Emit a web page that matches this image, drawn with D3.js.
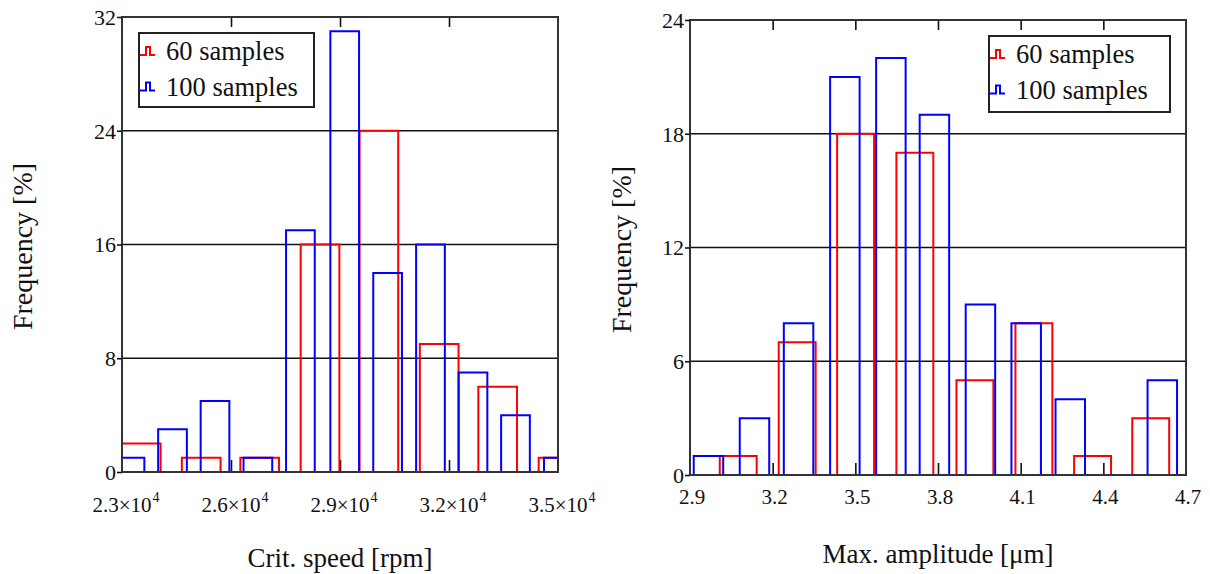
<!DOCTYPE html>
<html>
<head>
<meta charset="utf-8">
<script src="https://d3js.org/d3.v7.min.js"></script>
<style>
body { margin: 0; background: #fff; }
svg text { font-family: "Liberation Serif", "DejaVu Serif", "Times New Roman", serif; fill: #111; }
</style>
</head>
<body>
<svg id="chart" width="1210" height="574"></svg>
<script>
// ---- critical speed histogram (rpm) ----
const speedTicks = [23000, 26000, 29000, 32000, 35000];
const speedTickText = ["2.3", "2.6", "2.9", "3.2", "3.5"];
const speedFreqTicks = [0, 8, 16, 24, 32];
const speed60Mid = [23530, 25180, 26790, 28450, 30070, 31730, 33340, 35000];
const speed60Freq = [2, 1, 1, 16, 24, 9, 6, 1];
const speed60Bin = 1065;
const speed100Mid = [23220, 24390, 25560, 26740, 27910, 29130, 30310, 31490, 32660, 33830, 35010];
const speed100Freq = [1, 3, 5, 1, 17, 31, 14, 16, 7, 4, 1];
const speed100Bin = 790;

// ---- max amplitude histogram (um) ----
const ampTicks = [2.9, 3.2, 3.5, 3.8, 4.1, 4.4, 4.7];
const ampFreqTicks = [0, 6, 12, 18, 24];
const amp60Mid = [3.075, 3.289, 3.501, 3.716, 3.934, 4.148, 4.361, 4.572];
const amp60Freq = [1, 7, 18, 17, 5, 8, 1, 3];
const amp60Bin = 0.134;
const amp100Mid = [2.967, 3.134, 3.294, 3.462, 3.629, 3.787, 3.954, 4.120, 4.280, 4.451, 4.614];
const amp100Freq = [1, 3, 8, 21, 22, 19, 9, 8, 4, 0, 5];
const amp100Bin = 0.107;

const legendLabels = ["60 samples", "100 samples"];
const colors = ["#ff0000", "#0000ff"];
const serif = '"Liberation Serif", "DejaVu Serif", "Times New Roman", serif';

const svg = d3.select("#chart");

function panel(o) {
  const x = d3.scaleLinear().domain(d3.extent(o.xTicks)).range([o.left, o.right]);
  const y = d3.scaleLinear().domain(d3.extent(o.yTicks)).range([o.bottom, o.top]);
  const g = svg.append("g");

  g.append("clipPath").attr("id", o.id + "-clip")
   .append("rect")
   .attr("x", o.left).attr("y", o.top - 2)
   .attr("width", o.right - o.left).attr("height", o.bottom - o.top + 4);

  // horizontal grid
  g.selectAll(".grid")
   .data(o.yTicks.slice(1, -1))
   .join("line")
   .attr("x1", o.left).attr("x2", o.right)
   .attr("y1", d => y(d)).attr("y2", d => y(d))
   .attr("stroke", "#111").attr("stroke-width", 1.6);

  // inward ticks on top and bottom
  const inner = o.xTicks.slice(1, -1);
  g.append("g").attr("transform", `translate(0,${o.top})`)
   .call(d3.axisTop(x).tickValues(inner).tickSizeInner(-10).tickSizeOuter(0).tickFormat(""))
   .call(a => a.select(".domain").remove())
   .call(a => a.selectAll("line").attr("stroke", "#111").attr("stroke-width", 1.6));
  g.append("g").attr("transform", `translate(0,${o.bottom})`)
   .call(d3.axisBottom(x).tickValues(inner).tickSizeInner(-12).tickSizeOuter(0).tickFormat(""))
   .call(a => a.select(".domain").remove())
   .call(a => a.selectAll("line").attr("stroke", "#111").attr("stroke-width", 1.6));

  // bars (outline only, open at the bottom)
  const bars = g.append("g").attr("clip-path", `url(#${o.id}-clip)`);
  o.series.forEach((s, k) => {
    bars.selectAll(".b" + k)
      .data(s.mid.map((m, i) => ({ m: m, f: s.freq[i] })))
      .join("path")
      .attr("fill", "none")
      .attr("stroke", colors[k])
      .attr("stroke-width", 2)
      .attr("d", d => `M${x(d.m - s.bin / 2)},${y(0)}V${y(d.f)}H${x(d.m + s.bin / 2)}V${y(0)}`);
  });

  // frame
  g.append("rect")
   .attr("x", o.left).attr("y", o.top)
   .attr("width", o.right - o.left).attr("height", o.bottom - o.top)
   .attr("fill", "none").attr("stroke", "#333").attr("stroke-width", 2);

  // y axis ticks and labels
  g.append("g").attr("transform", `translate(${o.left},0)`)
   .call(d3.axisLeft(y).tickValues(o.yTicks).tickSize(5).tickPadding(1))
   .attr("font-family", serif)
   .call(a => a.select(".domain").remove())
   .call(a => a.selectAll("line").attr("stroke", "#111").attr("stroke-width", 1.6))
   .call(a => a.selectAll("text").attr("font-size", 22).attr("dy", "0.33em")
     .attr("font-family", serif).attr("fill", "#111"));

  // x labels
  const xl = g.append("g").attr("font-family", serif);
  o.xTicks.forEach((t, i) => {
    const tx = xl.append("text")
      .attr("x", x(t) + o.labelShift).attr("y", o.bottom + o.labelDrop)
      .attr("text-anchor", "middle").attr("font-size", 21)
      .attr("font-family", serif)
      .text(o.xText(i));
    if (o.sup) {
      const w = tx.node().getComputedTextLength();
      xl.append("text")
        .attr("x", x(t) + w / 2 + 1).attr("y", o.bottom + o.labelDrop - 10)
        .attr("font-size", 14).attr("font-family", serif).text(o.sup);
    }
  });

  // axis titles
  g.append("text")
   .attr("x", (o.left + o.right) / 2).attr("y", o.xTitleY)
   .attr("text-anchor", "middle").attr("font-size", 27)
   .attr("font-family", serif)
   .text(o.xTitle);
  g.append("text")
   .attr("transform", `translate(${o.yTitleX},${(o.top + o.bottom) / 2 + 2}) rotate(-90)`)
   .attr("text-anchor", "middle").attr("font-size", 28)
   .attr("font-family", serif)
   .text("Frequency [%]");

  // legend
  const lg = g.append("g").attr("transform", `translate(${o.legend[0]},${o.legend[1]})`);
  lg.append("rect").attr("width", o.legend[2]).attr("height", o.legend[3])
    .attr("fill", "#fff").attr("stroke", "#222").attr("stroke-width", 2);
  legendLabels.forEach((lab, k) => {
    const cy = 22 + k * 35.5;
    lg.append("path")
      .attr("d", `M1,${cy}H7V${cy - 8}H11V${cy}H16`)
      .attr("fill", "none").attr("stroke", colors[k]).attr("stroke-width", 2);
    lg.append("text").attr("x", 27).attr("y", cy + 5)
      .attr("font-size", 26.5).attr("font-family", serif).text(lab);
  });
}

panel({
  id: "speed",
  left: 122, right: 558, top: 17, bottom: 472,
  xTicks: speedTicks, yTicks: speedFreqTicks,
  xText: i => speedTickText[i] + "\u00d710", sup: "4",
  labelShift: 0, labelDrop: 40,
  xTitle: "Crit. speed [rpm]", xTitleY: 567, yTitleX: 32,
  legend: [139, 33, 175, 74],
  series: [
    { mid: speed60Mid, freq: speed60Freq, bin: speed60Bin },
    { mid: speed100Mid, freq: speed100Freq, bin: speed100Bin }
  ]
});

panel({
  id: "amp",
  left: 690, right: 1186, top: 20, bottom: 475,
  xTicks: ampTicks, yTicks: ampFreqTicks,
  xText: i => ampTicks[i].toFixed(1), sup: null,
  labelShift: 2, labelDrop: 29,
  xTitle: "Max. amplitude [\u03bcm]", xTitleY: 563, yTitleX: 631,
  legend: [989, 36, 181, 76],
  series: [
    { mid: amp60Mid, freq: amp60Freq, bin: amp60Bin },
    { mid: amp100Mid, freq: amp100Freq, bin: amp100Bin }
  ]
});
</script>
</body>
</html>
